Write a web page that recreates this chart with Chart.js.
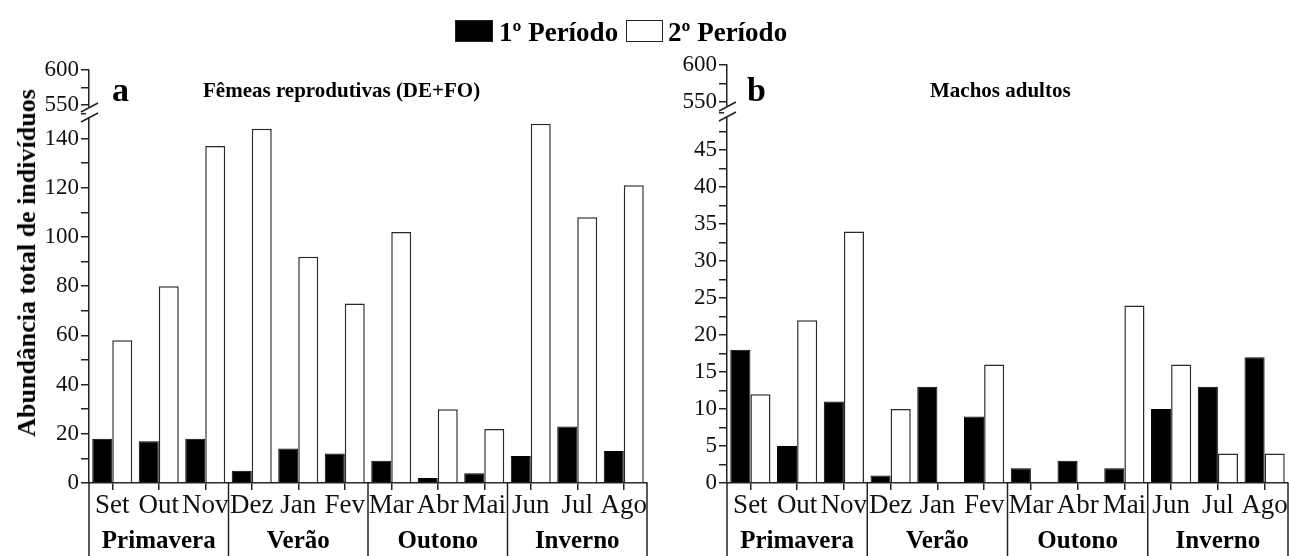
<!DOCTYPE html>
<html>
<head>
<meta charset="utf-8">
<script src="https://cdn.jsdelivr.net/npm/chart.js@4.4.1/dist/chart.umd.min.js"></script>
<style>
  html, body { margin: 0; padding: 0; background: #fff; }
  #page { position: relative; width: 1289px; height: 556px; overflow: hidden; font-family: 'Liberation Serif', 'Times New Roman', serif; color: #000; }
  canvas { position: absolute; top: 0; }
  .txt { position: absolute; white-space: nowrap; line-height: 1; font-weight: bold; }
  .box { position: absolute; border: 1.5px solid #222; box-sizing: border-box; }
</style>
</head>
<body>
<div id="page">
  <canvas id="chart-a" width="660" height="556" style="left:0"></canvas>
  <canvas id="chart-b" width="629" height="556" style="left:660px"></canvas>

  <!-- legend -->
  <div class="box" style="left:455px; top:20px; width:38px; height:22px; background:#000"></div>
  <div class="txt" style="left:499px; top:19px; font-size:27px">1º Período</div>
  <div class="box" style="left:626px; top:20px; width:37px; height:22px; background:#fff"></div>
  <div class="txt" style="left:668px; top:19px; font-size:27px">2º Período</div>

  <!-- panel labels and titles -->
  <div class="txt" style="left:112px; top:73px; font-size:34px">a</div>
  <div class="txt" style="left:203px; top:80px; font-size:21px">Fêmeas reprodutivas (DE+FO)</div>
  <div class="txt" style="left:747px; top:73px; font-size:34px">b</div>
  <div class="txt" style="left:930px; top:80px; font-size:21px">Machos adultos</div>

  <!-- y axis title -->
  <div class="txt" style="left:27px; top:263px; font-size:26px; transform:translate(-50%,-50%) rotate(-90deg)">Abundância total de indivíduos</div>
</div>

<script>
// ---- data ----
const months = ['Set', 'Out', 'Nov', 'Dez', 'Jan', 'Fev', 'Mar', 'Abr', 'Mai', 'Jun', 'Jul', 'Ago'];
const seasons = ['Primavera', 'Verão', 'Outono', 'Inverno'];

const femeas1 = [18, 17, 18, 5, 14, 12, 9, 2, 4, 11, 23, 13];
const femeas2 = [58, 80, 137, 144, 92, 73, 102, 30, 22, 146, 108, 121];
const machos1 = [18, 5, 11, 1, 13, 9, 2, 3, 2, 10, 13, 17];
const machos2 = [12, 22, 34, 10, 0, 16, 0, 0, 24, 16, 4, 4];

// tick values (lower segment / upper segment of the broken axis)
const ticksA = [0, 10, 20, 30, 40, 50, 60, 70, 80, 90, 100, 110, 120, 130, 140, 150];
const labelsA = [0, 20, 40, 60, 80, 100, 120, 140];
const ticksB = [0, 2.5, 5, 7.5, 10, 12.5, 15, 17.5, 20, 22.5, 25, 27.5, 30, 32.5, 35, 37.5, 40, 42.5, 45, 47.5, 50];
const labelsB = [0, 5, 10, 15, 20, 25, 30, 35, 40, 45];
const ticksUpper = [550, 575, 600];
const labelsUpper = [550, 600];

// season label row: name under the middle month of each group of 3
const seasonRow = months.map((m, i) => (i % 3 === 1 ? seasons[(i - 1) / 3] : ''));

const SERIF = "'Liberation Serif', 'Times New Roman', serif";
const AXIS = '#222';

// vertical separators under the x axis (season boxes)
const seasonBoxes = {
    id: 'seasonBoxes',
    afterDraw(chart) {
        const ctx = chart.ctx;
        const x = chart.scales.x;
        const area = chart.chartArea;
        const xs = [area.left, area.right];
        for (let i = 2; i < months.length - 1; i += 3) {
            xs.push((x.getPixelForValue(i) + x.getPixelForValue(i + 1)) / 2);
        }
        ctx.save();
        ctx.strokeStyle = AXIS;
        ctx.lineWidth = 1.5;
        xs.forEach(px => {
            ctx.beginPath();
            ctx.moveTo(px, area.bottom);
            ctx.lineTo(px, chart.height);
            ctx.stroke();
        });
        ctx.restore();
    }
};

// break marks on the y axis between the two segments
const axisBreak = {
    id: 'axisBreak',
    afterDraw(chart) {
        const ctx = chart.ctx;
        const ax = chart.chartArea.left;
        const by = chart.scales.y.top;
        ctx.save();
        ctx.fillStyle = '#fff';
        ctx.fillRect(ax - 3, by - 7, 6, 10);
        ctx.strokeStyle = AXIS;
        ctx.lineWidth = 1.5;
        [by - 7, by + 3].forEach(y0 => {
            ctx.beginPath();
            ctx.moveTo(ax - 8, y0 + 5);
            ctx.lineTo(ax + 9, y0 - 4);
            ctx.stroke();
        });
        ctx.restore();
    }
};

function makePanel(canvasId, d1, d2, lower, opts) {
    const ctx = document.getElementById(canvasId).getContext('2d');
    return new Chart(ctx, {
        type: 'bar',
        data: {
            labels: months,
            datasets: [
                {
                    label: '1º Período',
                    data: d1,
                    backgroundColor: '#000',
                    borderColor: '#000',
                    borderWidth: 1,
                    categoryPercentage: 0.86,
                    barPercentage: 1
                },
                {
                    label: '2º Período',
                    data: d2,
                    backgroundColor: '#fff',
                    borderColor: '#2a2a2a',
                    borderWidth: 1.5,
                    categoryPercentage: 0.86,
                    barPercentage: 1
                }
            ]
        },
        options: {
            responsive: false,
            animation: false,
            devicePixelRatio: 1,
            layout: { padding: { top: opts.top, right: opts.right, bottom: 0, left: 0 } },
            plugins: {
                legend: { display: false },
                tooltip: { enabled: false }
            },
            scales: {
                x: {
                    type: 'category',
                    position: 'bottom',
                    grid: { drawOnChartArea: false, offset: false, tickLength: 7, color: AXIS, lineWidth: 1.5 },
                    border: { color: AXIS, width: 1.5 },
                    ticks: { color: '#111', font: { family: SERIF, size: 27 }, padding: 0, autoSkip: false, maxRotation: 0 },
                    afterFit: s => { s.height = 40; }
                },
                x2: {
                    type: 'category',
                    position: 'bottom',
                    labels: seasonRow,
                    offset: true,
                    grid: { display: false, drawTicks: false },
                    border: { display: false },
                    ticks: { color: '#000', font: { family: SERIF, size: 25, weight: 'bold' }, padding: 4, autoSkip: false, maxRotation: 0 },
                    afterFit: s => { s.height = 33; }
                },
                y: {
                    type: 'linear',
                    position: 'left',
                    stack: 'broken',
                    stackWeight: opts.lowerWeight,
                    min: 0,
                    max: lower.ticks[lower.ticks.length - 1],
                    grid: { drawOnChartArea: false, tickLength: 8, color: AXIS, lineWidth: 1.5 },
                    border: { color: AXIS, width: 1.5 },
                    ticks: {
                        color: '#111',
                        font: { family: SERIF, size: 23 },
                        padding: 2,
                        autoSkip: false,
                        callback: v => (lower.labels.includes(v) ? String(v) : '')
                    },
                    afterBuildTicks: s => { s.ticks = lower.ticks.map(v => ({ value: v })); },
                    afterFit: s => { s.width = opts.yWidth; }
                },
                yTop: {
                    type: 'linear',
                    position: 'left',
                    stack: 'broken',
                    stackWeight: opts.upperWeight,
                    min: opts.upperMin,
                    max: 600,
                    grid: { drawOnChartArea: false, tickLength: 8, color: AXIS, lineWidth: 1.5 },
                    border: { color: AXIS, width: 1.5 },
                    ticks: {
                        color: '#111',
                        font: { family: SERIF, size: 23 },
                        padding: 2,
                        autoSkip: false,
                        callback: v => (labelsUpper.includes(v) ? String(v) : '')
                    },
                    afterBuildTicks: s => { s.ticks = ticksUpper.map(v => ({ value: v })); },
                    afterFit: s => { s.width = opts.yWidth; }
                }
            }
        },
        plugins: [seasonBoxes, axisBreak]
    });
}

makePanel('chart-a', femeas1, femeas2, { ticks: ticksA, labels: labelsA },
    { top: 70, right: 13, yWidth: 89, lowerWeight: 369, upperWeight: 44, upperMin: 537 });
makePanel('chart-b', machos1, machos2, { ticks: ticksB, labels: labelsB },
    { top: 65, right: 1, yWidth: 67, lowerWeight: 370, upperWeight: 48, upperMin: 535 });
</script>
</body>
</html>
